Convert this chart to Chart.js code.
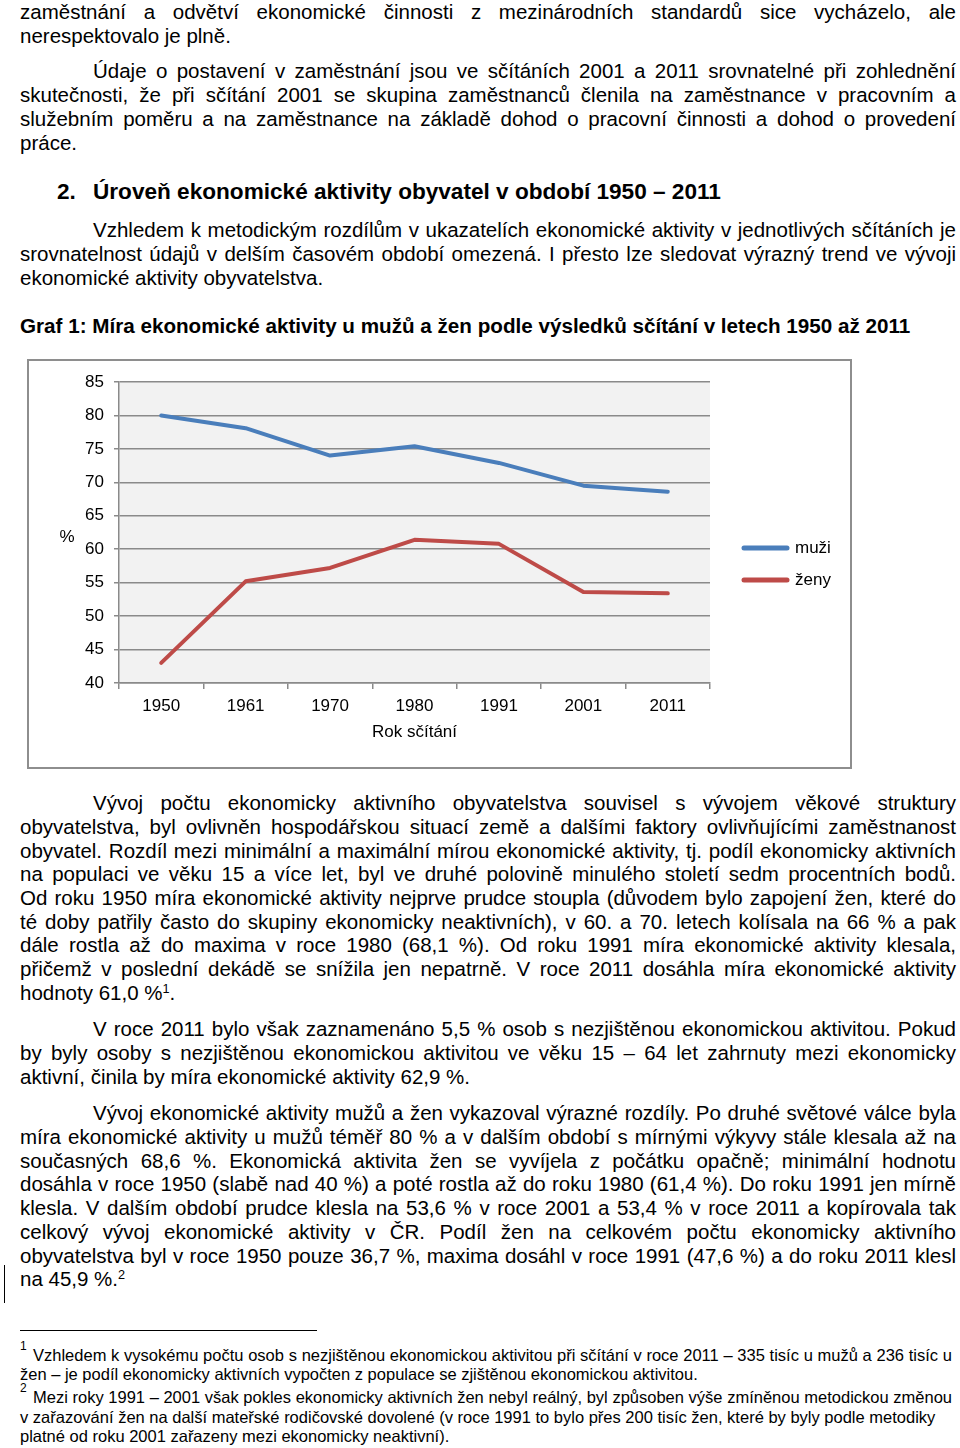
<!DOCTYPE html>
<html lang="cs">
<head>
<meta charset="utf-8">
<script src="https://cdn.jsdelivr.net/npm/chart.js@4.4.1/dist/chart.umd.min.js"></script>
<style>
  html, body { margin:0; padding:0; background:#fff; }
  body { width:960px; height:1448px; position:relative; overflow:hidden;
         font-family:"Liberation Sans", Arial, sans-serif; color:#000; }
  .ln { position:absolute; height:24px; line-height:24px; font-size:20.5px; white-space:nowrap; }
  .j { text-align:justify; text-align-last:justify; white-space:normal; overflow:hidden; }
  .b { font-weight:bold; }
  .h { font-size:22.6px; }
  .fn { position:absolute; height:19px; line-height:19px; font-size:16.5px; white-space:nowrap; }
  .sup { font-size:0.62em; position:relative; top:-0.55em; }
  #box { position:absolute; left:27px; top:359px; width:821px; height:406px; border:2px solid #8e8e8e; }
  #c { position:absolute; left:0; top:0; }
</style>
</head>
<body>
<div class="ln j" style="left:20px;top:0px;width:936px">zaměstnání a odvětví ekonomické činnosti z mezinárodních standardů sice vycházelo, ale</div>
<div class="ln" style="left:20px;top:24px">nerespektovalo je plně.</div>

<div class="ln j" style="left:93px;top:59px;width:863px">Údaje o postavení v zaměstnání jsou ve sčítáních 2001 a 2011 srovnatelné při zohlednění</div>
<div class="ln j" style="left:20px;top:83px;width:936px">skutečnosti, že při sčítání 2001 se skupina zaměstnanců členila na zaměstnance v pracovním a</div>
<div class="ln j" style="left:20px;top:107px;width:936px">služebním poměru a na zaměstnance na základě dohod o pracovní činnosti a dohod o provedení</div>
<div class="ln" style="left:20px;top:131px">práce.</div>

<div class="ln b h" style="left:57px;top:180px">2.</div>
<div class="ln b h" style="left:93px;top:180px">Úroveň ekonomické aktivity obyvatel v období 1950 – 2011</div>

<div class="ln j" style="left:93px;top:218px;width:863px">Vzhledem k metodickým rozdílům v ukazatelích ekonomické aktivity v jednotlivých sčítáních je</div>
<div class="ln j" style="left:20px;top:242px;width:936px">srovnatelnost údajů v delším časovém období omezená. I přesto lze sledovat výrazný trend ve vývoji</div>
<div class="ln" style="left:20px;top:266px">ekonomické aktivity obyvatelstva.</div>

<div class="ln b" style="left:20px;top:314px;font-size:20.65px">Graf 1: Míra ekonomické aktivity u mužů a žen podle výsledků sčítání v letech 1950 až 2011</div>

<div id="box"><canvas id="c" width="821" height="406"></canvas></div>

<div class="ln j" style="left:93px;top:791px;width:863px">Vývoj počtu ekonomicky aktivního obyvatelstva souvisel s vývojem věkové struktury</div>
<div class="ln j" style="left:20px;top:815px;width:936px">obyvatelstva, byl ovlivněn hospodářskou situací země a dalšími faktory ovlivňujícími zaměstnanost</div>
<div class="ln j" style="left:20px;top:839px;width:936px">obyvatel. Rozdíl mezi minimální a maximální mírou ekonomické aktivity, tj. podíl ekonomicky aktivních</div>
<div class="ln j" style="left:20px;top:862px;width:936px">na populaci ve věku 15 a více let, byl ve druhé polovině minulého století sedm procentních bodů.</div>
<div class="ln j" style="left:20px;top:886px;width:936px">Od roku 1950 míra ekonomické aktivity nejprve prudce stoupla (důvodem bylo zapojení žen, které do</div>
<div class="ln j" style="left:20px;top:910px;width:936px">té doby patřily často do skupiny ekonomicky neaktivních), v 60. a 70. letech kolísala na 66 % a pak</div>
<div class="ln j" style="left:20px;top:933px;width:936px">dále rostla až do maxima v roce 1980 (68,1 %). Od roku 1991 míra ekonomické aktivity klesala,</div>
<div class="ln j" style="left:20px;top:957px;width:936px">přičemž v poslední dekádě se snížila jen nepatrně. V roce 2011 dosáhla míra ekonomické aktivity</div>
<div class="ln" style="left:20px;top:981px">hodnoty 61,0 %<span class="sup">1</span>.</div>

<div class="ln j" style="left:93px;top:1017px;width:863px">V roce 2011 bylo však zaznamenáno 5,5 % osob s nezjištěnou ekonomickou aktivitou. Pokud</div>
<div class="ln j" style="left:20px;top:1041px;width:936px">by byly osoby s nezjištěnou ekonomickou aktivitou ve věku 15 – 64 let zahrnuty mezi ekonomicky</div>
<div class="ln" style="left:20px;top:1065px">aktivní, činila by míra ekonomické aktivity 62,9 %.</div>

<div class="ln j" style="left:93px;top:1101px;width:863px">Vývoj ekonomické aktivity mužů a žen vykazoval výrazné rozdíly. Po druhé světové válce byla</div>
<div class="ln j" style="left:20px;top:1125px;width:936px">míra ekonomické aktivity u mužů téměř 80 % a v dalším období s mírnými výkyvy stále klesala až na</div>
<div class="ln j" style="left:20px;top:1149px;width:936px">současných 68,6 %. Ekonomická aktivita žen se vyvíjela z počátku opačně; minimální hodnotu</div>
<div class="ln j" style="left:20px;top:1172px;width:936px">dosáhla v roce 1950 (slabě nad 40 %) a poté rostla až do roku 1980 (61,4 %). Do roku 1991 jen mírně</div>
<div class="ln j" style="left:20px;top:1196px;width:936px">klesla. V dalším období prudce klesla na 53,6 % v roce 2001 a 53,4 % v roce 2011 a kopírovala tak</div>
<div class="ln j" style="left:20px;top:1220px;width:936px">celkový vývoj ekonomické aktivity v ČR. Podíl žen na celkovém počtu ekonomicky aktivního</div>
<div class="ln j" style="left:20px;top:1244px;width:936px">obyvatelstva byl v roce 1950 pouze 36,7 %, maxima dosáhl v roce 1991 (47,6 %) a do roku 2011 klesl</div>
<div class="ln" style="left:20px;top:1267px">na 45,9 %.<span class="sup">2</span></div>

<div style="position:absolute;left:4px;top:1265px;width:1px;height:38px;background:#000"></div>
<div style="position:absolute;left:20px;top:1330px;width:297px;height:1px;background:#000"></div>

<div class="fn" style="left:20px;top:1337px;font-size:12px">1</div>
<div class="fn j" style="left:33px;top:1346px;width:919px">Vzhledem k vysokému počtu osob s nezjištěnou ekonomickou aktivitou při sčítání v roce 2011 – 335 tisíc u mužů a 236 tisíc u</div>
<div class="fn" style="left:20px;top:1365px">žen – je podíl ekonomicky aktivních vypočten z populace se zjištěnou ekonomickou aktivitou.</div>
<div class="fn" style="left:20px;top:1379px;font-size:12px">2</div>
<div class="fn j" style="left:33px;top:1388px;width:919px">Mezi roky 1991 – 2001 však pokles ekonomicky aktivních žen nebyl reálný, byl způsoben výše zmíněnou metodickou změnou</div>
<div class="fn" style="left:20px;top:1408px">v zařazování žen na další mateřské rodičovské dovolené (v roce 1991 to bylo přes 200 tisíc žen, které by byly podle metodiky</div>
<div class="fn" style="left:20px;top:1427px">platné od roku 2001 zařazeny mezi ekonomicky neaktivní).</div>

<script>
// keep justified lines on a single line
document.querySelectorAll('.j').forEach(function (el) {
  var lh = parseFloat(getComputedStyle(el).lineHeight);
  var fs = parseFloat(getComputedStyle(el).fontSize);
  el.style.overflow = 'visible';
  el.style.height = 'auto';
  var guard = 0;
  while (el.getBoundingClientRect().height > lh + 1 && guard < 40) {
    fs -= 0.2; el.style.fontSize = fs + 'px'; guard++;
  }
  el.style.height = lh + 'px';
});

// ---- chart data ----
const years = ['1950', '1961', '1970', '1980', '1991', '2001', '2011'];
const muzi = [80.0, 78.1, 74.0, 75.4, 72.9, 69.5, 68.6];
const zeny = [43.0, 55.2, 57.2, 61.4, 60.8, 53.6, 53.4];
const seriesNames = ['muži', 'ženy'];
const yMin = 40, yMax = 85, yStep = 5;
const yAxisTitle = '%';
const xAxisTitle = 'Rok sčítání';

const FONT = "'Liberation Sans', Arial, sans-serif";
Chart.defaults.font.family = FONT;
Chart.defaults.font.size = 17;
Chart.defaults.color = '#000';

const plotBg = {
  id: 'plotBg',
  beforeDraw(chart) {
    const { ctx, chartArea: a } = chart;
    ctx.save();
    ctx.fillStyle = '#f2f2f2';
    ctx.fillRect(a.left, a.top, a.right - a.left, a.bottom - a.top);
    ctx.restore();
  }
};

const sideText = {
  id: 'sideText',
  afterDraw(chart) {
    const { ctx } = chart;
    ctx.save();
    ctx.font = '17px ' + FONT;
    ctx.fillStyle = '#000';
    ctx.textBaseline = 'middle';
    ctx.textAlign = 'center';
    ctx.fillText(yAxisTitle, 38, 176);
    // legend
    ctx.textAlign = 'left';
    chart.data.datasets.forEach(function (ds, i) {
      const y = 187 + i * 32;
      ctx.strokeStyle = ds.borderColor;
      ctx.lineWidth = 5;
      ctx.lineCap = 'round';
      ctx.beginPath();
      ctx.moveTo(715, y);
      ctx.lineTo(758, y);
      ctx.stroke();
      ctx.fillText(ds.label, 766, y);
    });
    ctx.restore();
  }
};

new Chart(document.getElementById('c'), {
  type: 'line',
  data: {
    labels: years,
    datasets: [
      { label: seriesNames[0], data: muzi, borderColor: '#4a7ebb', backgroundColor: '#4a7ebb',
        borderWidth: 4, pointRadius: 0, tension: 0, borderCapStyle: 'round', borderJoinStyle: 'round' },
      { label: seriesNames[1], data: zeny, borderColor: '#be4b48', backgroundColor: '#be4b48',
        borderWidth: 4, pointRadius: 0, tension: 0, borderCapStyle: 'round', borderJoinStyle: 'round' }
    ]
  },
  options: {
    responsive: false,
    animation: false,
    devicePixelRatio: 1,
    layout: { padding: { left: 0, top: 21, right: 140, bottom: 24 } },
    plugins: { legend: { display: false }, tooltip: { enabled: false } },
    scales: {
      x: {
        offset: true,
        grid: { offset: true, drawOnChartArea: false, drawTicks: true, tickLength: 6, color: '#8a8a8a', lineWidth: 1.5 },
        border: { color: '#8a8a8a', width: 1.5 },
        ticks: { padding: 7, maxRotation: 0, autoSkip: false },
        title: { display: true, text: xAxisTitle, padding: 0, font: { size: 17 } },
        afterFit(scale) { scale.height = 60; }
      },
      y: {
        min: yMin, max: yMax,
        grid: { color: '#8a8a8a', lineWidth: 1.5, tickLength: 5 },
        border: { color: '#8a8a8a', width: 1.5 },
        ticks: { stepSize: yStep, padding: 10 },
        afterFit(scale) { scale.width = 90; }
      }
    }
  },
  plugins: [plotBg, sideText]
});
</script>
</body>
</html>
